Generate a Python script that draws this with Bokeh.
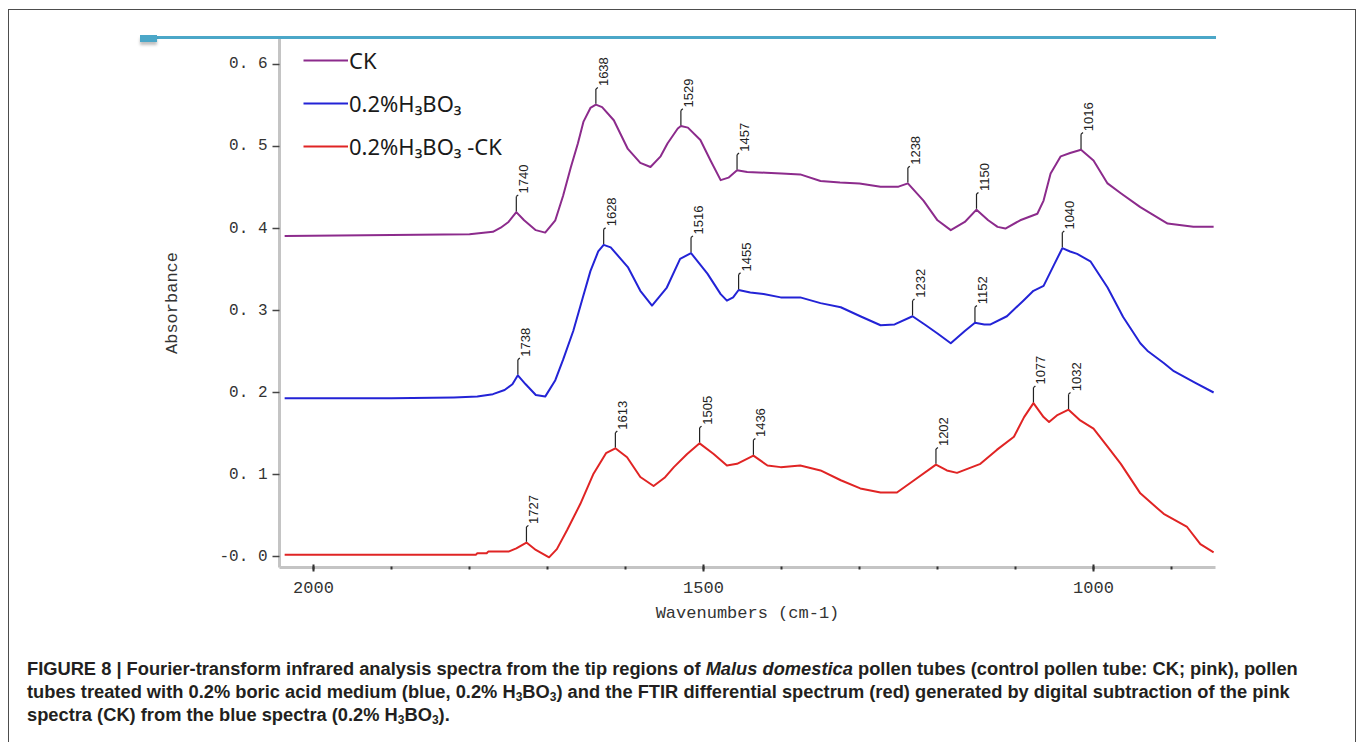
import numpy as np
from bokeh.plotting import figure
from bokeh.layouts import column
from bokeh.models import (Legend, LegendItem, FixedTicker, CustomJSTickFormatter,
                          Div, ColumnDataSource, Range1d)
from bokeh.core.properties import value
from bokeh.embed import file_html
from bokeh.resources import INLINE

# ---- FTIR spectra: wavenumber (cm-1) and absorbance ----
ck_wn = [2037, 1900, 1800, 1770, 1760, 1750, 1740, 1730, 1715, 1703,
         1690, 1680, 1670, 1661, 1654, 1645, 1638, 1630, 1615, 1597,
         1581, 1568, 1555, 1546, 1533, 1529, 1520, 1504, 1491, 1478,
         1468, 1457, 1444, 1420, 1400, 1376, 1350, 1325, 1300, 1273,
         1250, 1238, 1218, 1200, 1183, 1165, 1150, 1135, 1123, 1113,
         1094, 1072, 1064, 1055, 1042, 1030, 1016, 1000, 982, 965,
         940, 905, 872, 846]
ck_abs = [0.391, 0.392, 0.393, 0.396, 0.401, 0.408, 0.420, 0.410, 0.398, 0.395,
          0.410, 0.440, 0.475, 0.504, 0.530, 0.547, 0.551, 0.548, 0.532, 0.497,
          0.480, 0.475, 0.488, 0.504, 0.522, 0.525, 0.523, 0.508, 0.483, 0.459,
          0.462, 0.471, 0.469, 0.468, 0.467, 0.466, 0.458, 0.456, 0.455, 0.451,
          0.451, 0.455, 0.434, 0.410, 0.398, 0.408, 0.423, 0.410, 0.402, 0.400,
          0.410, 0.418, 0.434, 0.467, 0.488, 0.492, 0.496, 0.483, 0.455, 0.443,
          0.426, 0.406, 0.402, 0.402]

boric_wn = [2037, 1900, 1820, 1790, 1770, 1755, 1745, 1738, 1728, 1715,
            1703, 1690, 1680, 1667, 1655, 1645, 1635, 1628, 1619, 1597,
            1581, 1566, 1547, 1530, 1516, 1495, 1478, 1470, 1462, 1455,
            1440, 1423, 1401, 1376, 1350, 1324, 1299, 1273, 1255, 1232,
            1215, 1200, 1183, 1165, 1152, 1140, 1132, 1111, 1090, 1077,
            1064, 1051, 1040, 1030, 1021, 1004, 982, 962, 940, 931,
            910, 897, 870, 846]
boric_abs = [0.193, 0.193, 0.194, 0.195, 0.198, 0.203, 0.210, 0.221, 0.210, 0.197,
             0.195, 0.215, 0.240, 0.275, 0.315, 0.348, 0.372, 0.380, 0.377, 0.353,
             0.324, 0.306, 0.328, 0.363, 0.370, 0.345, 0.320, 0.312, 0.316, 0.325,
             0.322, 0.320, 0.316, 0.316, 0.309, 0.304, 0.293, 0.282, 0.283, 0.293,
             0.282, 0.272, 0.260, 0.275, 0.285, 0.283, 0.283, 0.293, 0.312, 0.324,
             0.330, 0.355, 0.376, 0.372, 0.369, 0.360, 0.328, 0.292, 0.260, 0.251,
             0.236, 0.226, 0.212, 0.200]

diff_wn = [2037, 1900, 1792, 1790, 1778, 1776, 1750, 1740, 1727, 1715,
           1698, 1688, 1675, 1658, 1641, 1625, 1613, 1598, 1581, 1564,
           1550, 1538, 1521, 1505, 1487, 1470, 1457, 1436, 1418, 1401,
           1376, 1350, 1324, 1299, 1273, 1252, 1230, 1202, 1188, 1175,
           1145, 1124, 1102, 1089, 1077, 1064, 1057, 1047, 1032, 1017,
           1000, 982, 965, 940, 910, 880, 863, 846]
diff_abs = [0.002, 0.002, 0.002, 0.004, 0.004, 0.006, 0.006, 0.010, 0.017, 0.008,
            -0.001, 0.009, 0.032, 0.064, 0.101, 0.126, 0.132, 0.121, 0.097, 0.086,
            0.096, 0.109, 0.125, 0.138, 0.125, 0.111, 0.113, 0.123, 0.111, 0.109,
            0.111, 0.105, 0.093, 0.083, 0.078, 0.078, 0.093, 0.112, 0.105, 0.102,
            0.113, 0.130, 0.146, 0.170, 0.187, 0.170, 0.164, 0.172, 0.179, 0.166,
            0.156, 0.134, 0.113, 0.077, 0.052, 0.036, 0.015, 0.005]

# labelled band positions (cm-1)
ck_peaks = [1740, 1638, 1529, 1457, 1238, 1150, 1016]
boric_peaks = [1738, 1628, 1516, 1455, 1232, 1152, 1040]
diff_peaks = [1727, 1613, 1505, 1436, 1202, 1077, 1032]

series_names = ["CK", "0.2%H\u2083BO\u2083", "0.2%H\u2083BO\u2083 -CK"]
series_colors = ["#8c2b8c", "#2323d6", "#e02424"]

x_major = [2000, 1500, 1000]
x_minor = [2000, 1900, 1800, 1700, 1600, 1500, 1400, 1300, 1200, 1100, 1000, 900]
y_major = [0.0, 0.1, 0.2, 0.3, 0.4, 0.5, 0.6]

MONO = "Liberation Mono"

p = figure(width=1357, height=640, output_backend="svg", toolbar_location=None,
           x_range=Range1d(2043.6, 843.6), y_range=Range1d(-0.0134, 0.6317),
           min_border_left=279, min_border_right=142, min_border_top=38,
           min_border_bottom=73, background_fill_color="white",
           border_fill_color="white", outline_line_color=None)
p.xgrid.visible = False
p.ygrid.visible = False

renderers = []
for wn, ab, col in [(ck_wn, ck_abs, series_colors[0]),
                    (boric_wn, boric_abs, series_colors[1]),
                    (diff_wn, diff_abs, series_colors[2])]:
    renderers.append(p.line(wn, ab, line_color=col, line_width=2, line_join="round"))

# peak markers: short tick above each band with a rotated wavenumber label
px, py0, py1, hx, hy, lbl = [], [], [], [], [], []
for wn, ab, peaks in [(ck_wn, ck_abs, ck_peaks),
                      (boric_wn, boric_abs, boric_peaks),
                      (diff_wn, diff_abs, diff_peaks)]:
    for pk in peaks:
        yv = float(np.interp(pk, wn[::-1], ab[::-1]))
        px.append(pk)
        py0.append(yv + 0.001)
        py1.append(yv + 0.019)
        hx.append(pk - 2.5)
        hy.append(yv + 0.021)
        lbl.append(str(pk))

src = ColumnDataSource(dict(x=px, y0=py0, y1=py1, hx=hx, hy=hy, text=lbl))
p.segment(x0="x", y0="y0", x1="x", y1="y1", source=src, line_color="#222222", line_width=1.2)
p.segment(x0="x", y0="y1", x1="hx", y1="hy", source=src, line_color="#222222", line_width=1.2)
p.text(x="x", y="y1", text="text", source=src, angle=np.pi / 2,
       text_align="left", text_baseline="top", x_offset=3, y_offset=-3,
       text_font=value("Liberation Sans"), text_font_size="13px", text_color="#222222")

# axes
xa = p.xaxis[0]
xa.ticker = FixedTicker(ticks=x_major, minor_ticks=x_minor)
xa.axis_label = "Wavenumbers (cm-1)"
xa.axis_label_text_font = MONO
xa.axis_label_text_font_size = "17px"
xa.axis_label_text_font_style = "normal"
xa.axis_label_text_color = "#333333"
xa.axis_label_standoff = 8
xa.major_label_text_font = MONO
xa.major_label_text_font_size = "17px"
xa.major_label_text_color = "#333333"
xa.major_label_standoff = 10
xa.axis_line_color = "#c4c4c4"
xa.axis_line_width = 3
xa.major_tick_in = 3
xa.major_tick_out = 4
xa.major_tick_line_color = "#333333"
xa.major_tick_line_width = 2
xa.minor_tick_in = 1
xa.minor_tick_out = 2
xa.minor_tick_line_color = "#333333"
xa.minor_tick_line_width = 2

ya = p.yaxis[0]
ya.ticker = FixedTicker(ticks=y_major, minor_ticks=[])
ya.formatter = CustomJSTickFormatter(code="""
const s = Math.abs(tick) < 1e-9 ? "-0.0" : tick.toFixed(1);
return s.replace(".", ". ");
""")
ya.axis_label = "Absorbance"
ya.axis_label_text_font = MONO
ya.axis_label_text_font_size = "17px"
ya.axis_label_text_font_style = "normal"
ya.axis_label_text_color = "#333333"
ya.axis_label_standoff = 34
ya.major_label_text_font = MONO
ya.major_label_text_font_size = "16px"
ya.major_label_text_color = "#333333"
ya.major_label_standoff = 5
ya.axis_line_color = "#c4c4c4"
ya.axis_line_width = 3
ya.major_tick_in = 0
ya.major_tick_out = 7
ya.major_tick_line_color = "#444444"
ya.major_tick_line_width = 1.5
ya.minor_tick_line_color = None

legend = Legend(
    items=[LegendItem(label=n, renderers=[r]) for n, r in zip(series_names, renderers)],
    location=(24, 406), margin=0, padding=0, spacing=13,
    glyph_width=45, glyph_height=30, label_height=30, label_standoff=1,
    label_text_font="Noto Sans", label_text_font_size="22px", label_text_color="#1a1a1a",
    background_fill_alpha=0, border_line_alpha=0)
p.add_layout(legend)

SUB = '<sub style="font-size:12px;vertical-align:-3px;line-height:0">3</sub>'
caption_html = f"""
<div style="position:fixed; left:8px; top:9px; width:1348px; height:800px;
 box-sizing:border-box; border:1px solid #4d4d4d; pointer-events:none;"></div>
<div style="position:fixed; left:140px; top:35.5px; width:1076px; height:3px;
 background:#4ba7c8; pointer-events:none;"></div>
<div style="position:fixed; left:140px; top:34.5px; width:17px; height:7px;
 background:#4ba7c8; box-shadow:0 3px 3px rgba(0,0,0,0.25); pointer-events:none;"></div>
<div style="margin-left:9px; width:1346px; height:102px; box-sizing:border-box;
 padding:12px 0 0 13px; font-family:'Liberation Sans', Arial, sans-serif;
 font-weight:bold; font-size:18.3px; line-height:23px; color:#231f20; white-space:nowrap;">
FIGURE 8 | Fourier-transform infrared analysis spectra from the tip regions of <i>Malus domestica</i> pollen tubes (control pollen tube: CK; pink), pollen<br>
tubes treated with 0.2% boric acid medium (blue, 0.2% H{SUB}BO{SUB}) and the FTIR differential spectrum (red) generated by digital subtraction of the pink<br>
spectra (CK) from the blue spectra (0.2% H{SUB}BO{SUB}).
</div>
"""
caption = Div(text=caption_html, width=1357, height=102)

layout = column(p, caption, spacing=0)
open("out.html", "w").write(file_html(layout, INLINE))
